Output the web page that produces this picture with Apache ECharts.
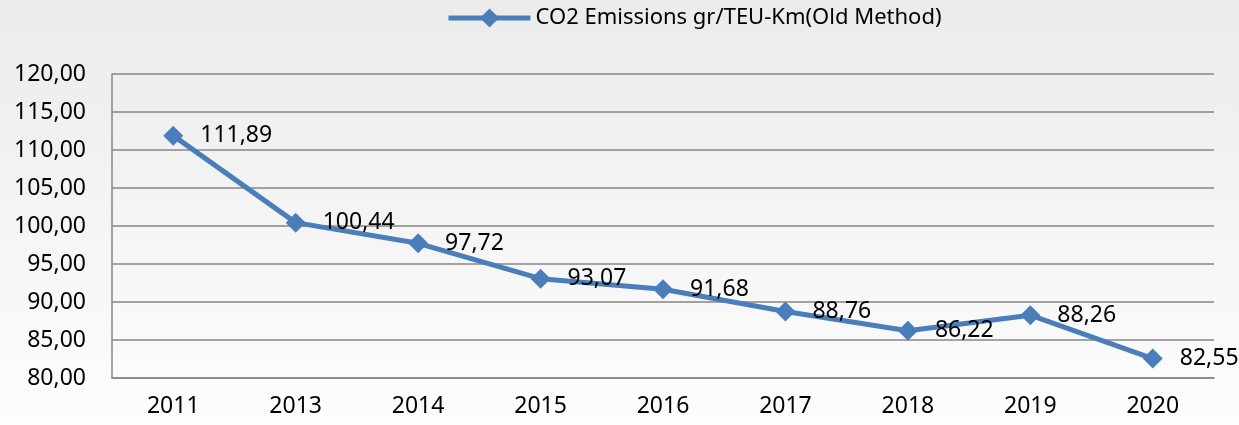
<!DOCTYPE html>
<html>
<head>
<meta charset="utf-8">
<script src="https://cdn.jsdelivr.net/npm/echarts@6/dist/echarts.min.js"></script>
<style>
html,body{margin:0;padding:0;}
#chart{width:1239px;height:425px;}
</style>
</head>
<body>
<div id="chart"></div>
<script>
const categories = ['2011','2013','2014','2015','2016','2017','2018','2019','2020'];
const seriesName = 'CO2 Emissions gr/TEU-Km(Old Method)';
const values = [111.89, 100.44, 97.72, 93.07, 91.68, 88.76, 86.22, 88.26, 82.55];
const yMin = 80, yMax = 120, yStep = 5;

const fmt = v => v.toFixed(2).replace('.', ',');
const FONT = 'Noto Sans';
const chart = echarts.init(document.getElementById('chart'));
chart.setOption({
  backgroundColor: new echarts.graphic.LinearGradient(0, 0, 0, 1, [
    {offset: 0, color: '#ebebeb'},
    {offset: 1, color: '#fdfdfd'}
  ]),
  animation: false,
  legend: {
    top: 2,
    left: 441,
    itemWidth: 82,
    itemHeight: 24,
    itemGap: 10,
    lineStyle: {width: 5, color: '#4a7ebb'},
    itemStyle: {color: '#4a7ebb'},
    textStyle: {fontFamily: FONT, fontSize: 22, color: '#000'},
    data: [seriesName]
  },
  grid: {left: 112, right: 25, top: 74, bottom: 47, containLabel: false},
  xAxis: {
    type: 'category',
    data: categories,
    boundaryGap: true,
    axisLine: {lineStyle: {color: '#868686', width: 1.5}},
    axisTick: {show: false},
    axisLabel: {fontFamily: FONT, fontSize: 23, color: '#000', margin: 17}
  },
  yAxis: {
    type: 'value',
    min: yMin, max: yMax, interval: yStep,
    axisLine: {show: true, lineStyle: {color: '#868686', width: 1.5}},
    axisTick: {show: false},
    splitLine: {lineStyle: {color: '#868686', width: 1.5}},
    axisLabel: {fontFamily: FONT, fontSize: 23, color: '#000', margin: 26, formatter: v => fmt(v)}
  },
  series: [{
    name: seriesName,
    type: 'line',
    data: values,
    symbol: 'diamond',
    symbolSize: 20,
    lineStyle: {color: '#4a7ebb', width: 5},
    itemStyle: {color: '#4a7ebb'},
    label: {
      show: true, position: 'right', distance: 17,
      fontFamily: FONT, fontSize: 23, color: '#000',
      formatter: p => fmt(p.value)
    }
  }]
});
</script>
</body>
</html>
